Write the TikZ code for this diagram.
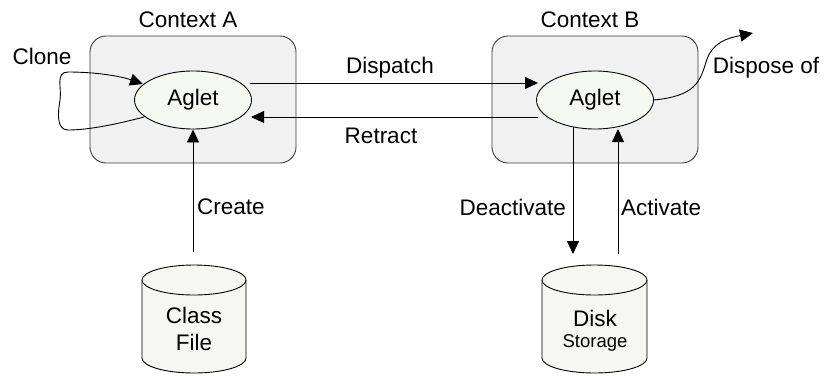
\documentclass[tikz,border=0pt]{standalone}
\usepackage{fontspec}
\setmainfont{Liberation Sans}
\usetikzlibrary{arrows.meta,shapes.geometric}
\definecolor{boxfill}{RGB}{241,241,241}
\definecolor{ellfill}{RGB}{246,249,241}
\definecolor{cylfill}{RGB}{246,247,243}
\definecolor{edge}{RGB}{60,60,60}
\tikzset{
  ctx/.style={draw=edge, fill=boxfill, rounded corners=16pt, line width=0.9pt},
  aglet/.style={ellipse, draw=black, fill=ellfill, line width=0.9pt, minimum width=117pt, minimum height=58pt, inner sep=0pt},
  lbl/.style={inner sep=0pt, font=\fontsize{22.5}{26}\selectfont},
  small/.style={inner sep=0pt, font=\fontsize{18.5}{21}\selectfont},
  cyl/.style={draw=black, fill=cylfill, line width=0.9pt},
  arr/.style={line width=0.9pt, -{Triangle[length=13pt,width=12pt]}},
  ln/.style={line width=0.9pt}
}
\begin{document}
\begin{tikzpicture}[x=1pt,y=-1pt]
\useasboundingbox (0,0) rectangle (826,375);
% context boxes
\draw[ctx] (90,36) rectangle (296,163);
\draw[ctx] (492,36) rectangle (698,163);
\node[lbl] (ctxA) at (188,20) {Context A};
\node[lbl] (ctxB) at (590,20) {Context B};
% aglets
\node[aglet] (agA) at (193,100) {};
\node[lbl] at (agA) {Aglet};
\node[aglet] (agB) at (595,100) {};
\node[lbl] at (agB) {Aglet};
% clone loop
\node[lbl] (clone) at (42,56) {Clone};
\coordinate (clS) at (144,117);
\coordinate (clE) at (143,84);
\draw[arr] (clS) .. controls (110,126) and (85,130) .. (68,130)
  .. controls (56,130) and (58,112) .. (60,100)
  .. controls (62,88) and (55,72) .. (68,72)
  .. controls (95,72) and (120,76) .. (clE);
% dispatch / retract
\coordinate (dS) at (250,83);
\coordinate (dE) at (538,83);
\draw[arr] (dS) -- (dE);
\coordinate (rS) at (538,117);
\coordinate (rE) at (251,117);
\draw[arr] (rS) -- (rE);
\node[lbl] (dispatch) at (390,68) {Dispatch};
\node[lbl] (retract) at (381,136) {Retract};
% dispose
\coordinate (dpE) at (753,33);
\draw[arr] (agB.east) .. controls (695,96) and (700,82) .. (706,62)
  .. controls (712,42) and (728,38) .. (dpE);
\node[lbl] (dispose) at (766,68) {Dispose of};
% class file cylinder
\path[cyl] (142,280) -- (142,358) arc (180:360:52pt and 15pt) -- (246,280) arc (0:180:52pt and 15pt) -- cycle;
\draw[ln] (142,280) arc (180:360:52pt and 15pt);
\node[lbl, align=center] (classfile) at (194,329) {Class\\[1pt]File};
% disk cylinder
\path[cyl] (542,280) -- (542,358) arc (180:360:52.5pt and 15pt) -- (647,280) arc (0:180:52.5pt and 15pt) -- cycle;
\draw[ln] (542,280) arc (180:360:52.5pt and 15pt);
\node[lbl] (disk) at (595,318) {Disk};
\node[small] (storage) at (595,343) {Storage};
% create
\coordinate (cS) at (193,252);
\draw[arr] (cS) -- (agA.south);
\node[lbl, anchor=west] (create) at (197,207) {Create};
% deactivate / activate
\coordinate (daS) at (573,127);
\coordinate (daE) at (573,254);
\draw[arr] (daS) -- (daE);
\coordinate (aS) at (618,254);
\coordinate (aE) at (618,129);
\draw[arr] (aS) -- (aE);
\node[lbl, anchor=east] (deact) at (566,207) {Deactivate};
\node[lbl, anchor=west] (act) at (621,207) {Activate};
\end{tikzpicture}
\end{document}
